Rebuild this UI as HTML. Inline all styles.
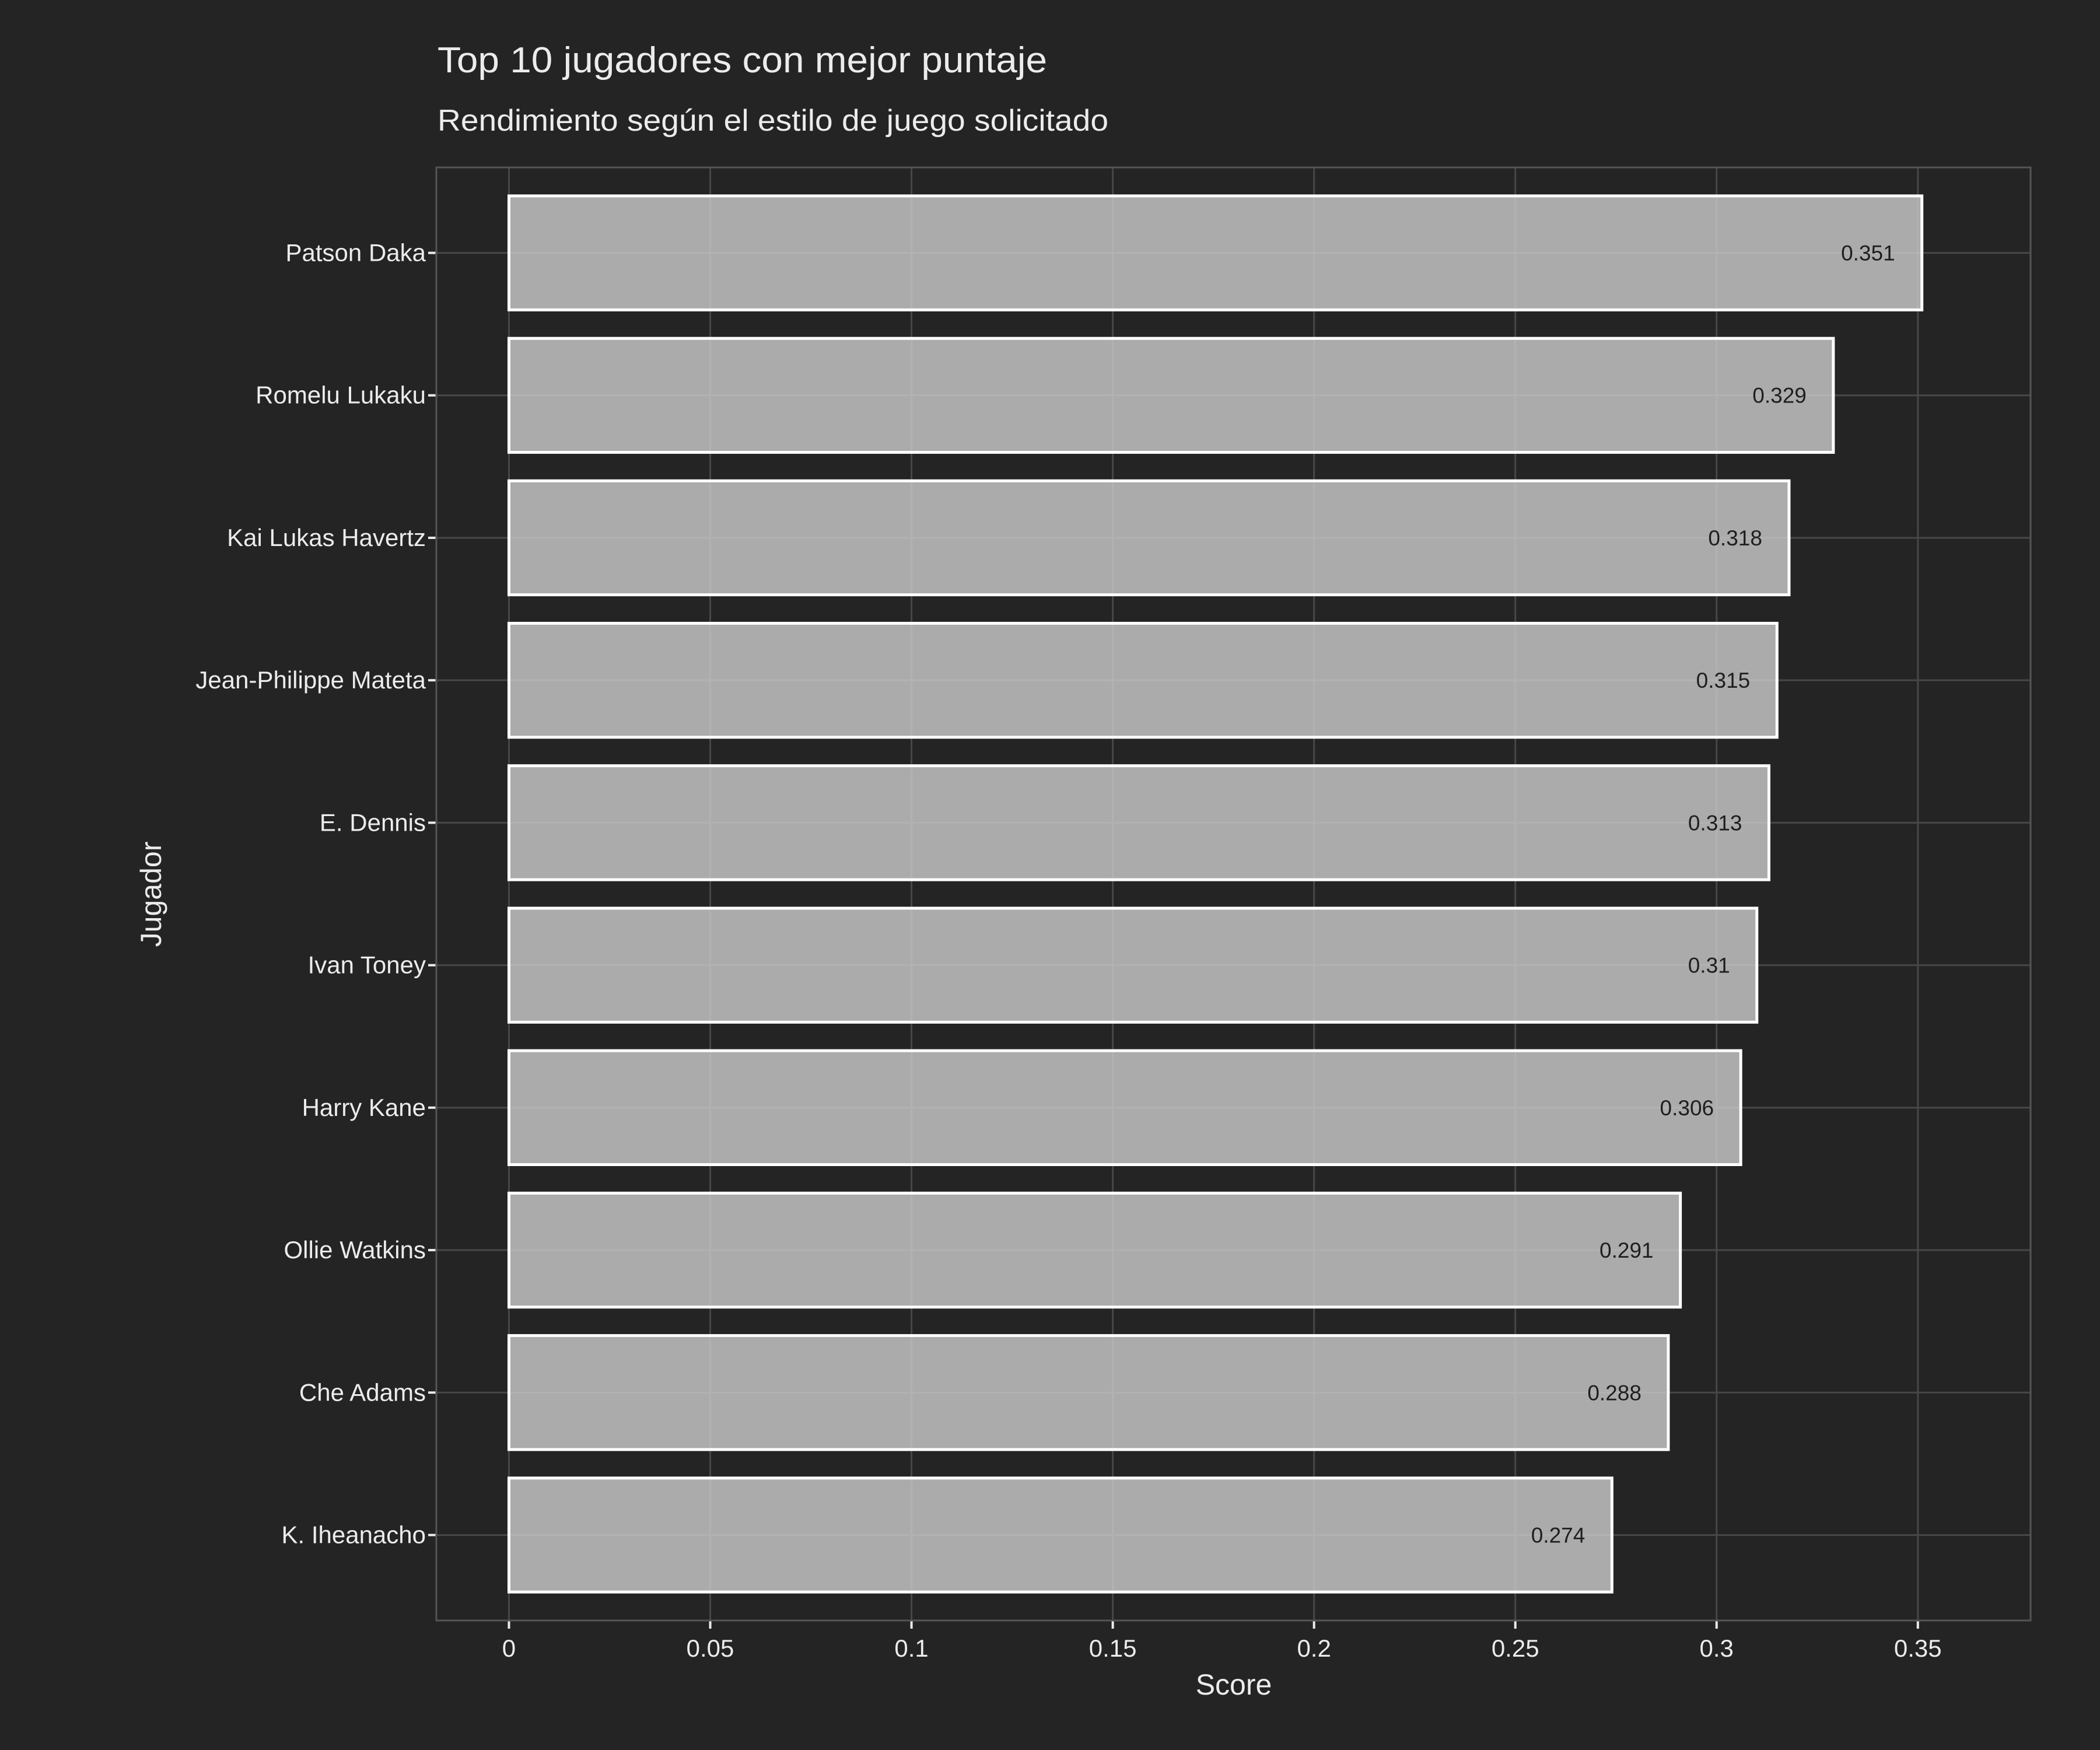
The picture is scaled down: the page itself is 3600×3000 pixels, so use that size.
<!DOCTYPE html>
<html><head><meta charset="utf-8"><style>
html,body{margin:0;padding:0;background:#242424;}
svg{display:block;}
</style></head><body>
<svg id="chart" width="3600" height="3000" viewBox="0 0 3600 3000" xmlns="http://www.w3.org/2000/svg" font-family="'Liberation Sans', sans-serif">
<rect x="0" y="0" width="3600" height="3000" fill="#242424"/>
<text x="750" y="124" font-size="62" fill="#ececec" textLength="1045" lengthAdjust="spacingAndGlyphs">Top 10 jugadores con mejor puntaje</text>
<text x="750" y="224" font-size="52" fill="#ececec" textLength="1150" lengthAdjust="spacingAndGlyphs">Rendimiento según el estilo de juego solicitado</text>
<g id="grid"></g>
<g id="bars"></g>
<g id="labels"></g>
<g id="axes"></g>
<rect x="748" y="287" width="2733" height="2491" fill="none" stroke="#555" stroke-width="3"/>
<text x="2115" y="2905" font-size="50" fill="#ececec" text-anchor="middle">Score</text>
<text x="0" y="0" font-size="50" fill="#ececec" text-anchor="middle" transform="translate(276,1533) rotate(-90)">Jugador</text>
</svg>
<script>
const players = ["Patson Daka","Romelu Lukaku","Kai Lukas Havertz","Jean-Philippe Mateta","E. Dennis","Ivan Toney","Harry Kane","Ollie Watkins","Che Adams","K. Iheanacho"];
const scores = [0.351,0.329,0.318,0.315,0.313,0.31,0.306,0.291,0.288,0.274];
const valueLabels = ["0.351","0.329","0.318","0.315","0.313","0.31","0.306","0.291","0.288","0.274"];
const xTicks = [0,0.05,0.1,0.15,0.2,0.25,0.3,0.35];
const xTickLabels = ["0","0.05","0.1","0.15","0.2","0.25","0.3","0.35"];

const NS="http://www.w3.org/2000/svg";
const PL=748, PR=3481, PT=287, PB=2778;
const xMin=-0.01804, xMax=0.37800;
function xs(v){return PL+(v-xMin)/(xMax-xMin)*(PR-PL);}
const n=players.length;
const step=(PB-PT)/(n+0.2);
function ys(i){return PT+step*(0.6+i);}
function mk(tag,attrs,parent){const e=document.createElementNS(NS,tag);for(const k in attrs)e.setAttribute(k,attrs[k]);parent.appendChild(e);return e;}
const grid=document.getElementById('grid'), bars=document.getElementById('bars'), labels=document.getElementById('labels'), axes=document.getElementById('axes');

xTicks.forEach((t,i)=>{
  const x=xs(t);
  const g=mk('line',{x1:x,x2:x,y1:PT,y2:PB,stroke:'#474747','stroke-width':3},grid);
  
  
  const tk=mk('line',{x1:x,x2:x,y1:PB,y2:PB+14,stroke:'#ececec','stroke-width':4},axes);
  
  
  const tl=mk('text',{x:x,y:PB+62,'font-size':42,fill:'#ececec','text-anchor':'middle'},axes);
  tl.textContent=xTickLabels[i];
  
  
});
players.forEach((p,i)=>{
  const y=ys(i);
  const g=mk('line',{x1:PL,x2:PR,y1:y,y2:y,stroke:'#474747','stroke-width':3},grid);
  
  
  const tk=mk('line',{x1:PL-14,x2:PL,y1:y,y2:y,stroke:'#ececec','stroke-width':4},axes);
  
  
  const tl=mk('text',{x:PL-18,y:y+14,'font-size':42,fill:'#ececec','text-anchor':'end'},axes);
  tl.textContent=p;
  
  
  const h=step*0.8;
  const x0=xs(0), x1=xs(scores[i]);
  const b=mk('rect',{x:x0,y:y-h/2,width:x1-x0,height:h,fill:'rgb(205,205,205)','fill-opacity':0.8,stroke:'#ffffff','stroke-width':5},bars);
  
  
  const vl=mk('text',{x:x1-46,y:y+13,'font-size':37,fill:'#1e1e1e','text-anchor':'end'},labels);
  vl.textContent=valueLabels[i];
  
  
});
</script>
</body></html>
